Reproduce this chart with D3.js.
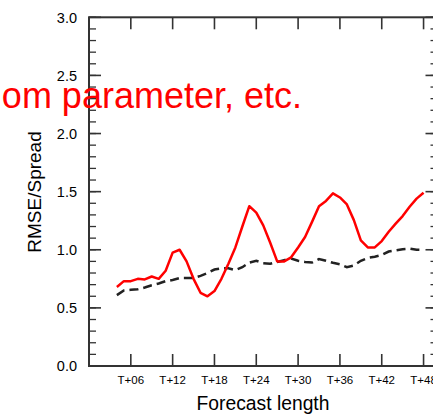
<!DOCTYPE html>
<html><head><meta charset="utf-8">
<script src="https://cdn.jsdelivr.net/npm/d3@7"></script>
<style>body{margin:0;background:#fff}svg{display:block}</style>
</head><body>
<script>
const hours = d3.range(4, 49);
const rmseSpread = [0.68,0.73,0.73,0.75,0.745,0.77,0.75,0.82,0.975,1.0,0.90,0.75,0.63,0.60,0.645,0.75,0.88,1.02,1.20,1.375,1.32,1.21,1.06,0.90,0.90,0.935,1.02,1.11,1.24,1.375,1.42,1.485,1.45,1.39,1.255,1.08,1.02,1.02,1.075,1.155,1.225,1.29,1.37,1.44,1.49];
const reference = [0.61,0.65,0.655,0.66,0.675,0.695,0.71,0.73,0.74,0.757,0.757,0.757,0.775,0.80,0.83,0.84,0.84,0.825,0.85,0.89,0.905,0.885,0.88,0.895,0.91,0.925,0.905,0.895,0.89,0.92,0.905,0.888,0.875,0.85,0.865,0.905,0.93,0.94,0.955,0.985,0.995,1.005,1.01,1.0,1.0];
const xTicks = [6,12,18,24,30,36,42,48];
const xTickLabels = ["T+06","T+12","T+18","T+24","T+30","T+36","T+42","T+48"];
const yTicks = [0.0,0.5,1.0,1.5,2.0,2.5,3.0];

const W = 433, H = 414;
const svg = d3.select("body").append("svg").attr("width", W).attr("height", H);
const x = d3.scaleLinear().domain([0, 50]).range([89, 437.5]);
const y = d3.scaleLinear().domain([0, 3]).range([366, 17.3]);
const font = "'Liberation Sans', Arial, Helvetica, sans-serif";
const axisColor = "#333";

// minor y ticks
const minor = d3.range(0, 31).map(d => d / 10);
const g = svg.append("g");
g.selectAll(".minl").data(minor).join("line")
  .attr("x1", x(0)).attr("x2", x(0) + 7).attr("y1", d => y(d)).attr("y2", d => y(d))
  .attr("stroke", axisColor).attr("stroke-width", 1.3);
g.selectAll(".minr").data(minor).join("line")
  .attr("x1", x(50)).attr("x2", x(50) - 7).attr("y1", d => y(d)).attr("y2", d => y(d))
  .attr("stroke", axisColor).attr("stroke-width", 1.3);
// major y ticks
g.selectAll(".majl").data(yTicks).join("line")
  .attr("x1", x(0)).attr("x2", x(0) + 12).attr("y1", d => y(d)).attr("y2", d => y(d))
  .attr("stroke", axisColor).attr("stroke-width", 1.6);
g.selectAll(".majr").data(yTicks).join("line")
  .attr("x1", x(50)).attr("x2", x(50) - 12).attr("y1", d => y(d)).attr("y2", d => y(d))
  .attr("stroke", axisColor).attr("stroke-width", 1.6);
// x ticks bottom & top
g.selectAll(".xb").data(xTicks).join("line")
  .attr("x1", d => x(d)).attr("x2", d => x(d)).attr("y1", y(0)).attr("y2", y(0) - 12)
  .attr("stroke", axisColor).attr("stroke-width", 1.6);
g.selectAll(".xt").data(xTicks).join("line")
  .attr("x1", d => x(d)).attr("x2", d => x(d)).attr("y1", y(3)).attr("y2", y(3) + 12)
  .attr("stroke", axisColor).attr("stroke-width", 1.6);
// frame
svg.append("rect").attr("x", x(0)).attr("y", y(3)).attr("width", x(50) - x(0)).attr("height", y(0) - y(3))
  .attr("fill", "none").attr("stroke", axisColor).attr("stroke-width", 2);

// tick labels
svg.selectAll(".yl").data(yTicks).join("text")
  .attr("x", 77).attr("y", d => y(d)).attr("dy", "0.36em").attr("text-anchor", "end")
  .attr("font-family", font).attr("font-size", 14.5).attr("fill", "#000")
  .text(d => d.toFixed(1));
svg.selectAll(".xl").data(xTicks).join("text")
  .attr("x", d => x(d)).attr("y", 384).attr("text-anchor", "middle")
  .attr("font-family", font).attr("font-size", 11.5).attr("fill", "#000")
  .text((d, i) => xTickLabels[i]);

// axis titles
svg.append("text").attr("x", 263).attr("y", 410).attr("text-anchor", "middle")
  .attr("font-family", font).attr("font-size", 19.3).attr("fill", "#000").text("Forecast length");
svg.append("text").attr("transform", "translate(41,192) rotate(-90)").attr("text-anchor", "middle")
  .attr("font-family", font).attr("font-size", 19).attr("fill", "#000").text("RMSE/Spread");

// lines
const line = d3.line().x((d, i) => x(hours[i])).y(d => y(d));
svg.append("path").datum(reference).attr("d", line).attr("fill", "none")
  .attr("stroke", "#222").attr("stroke-width", 2.5).attr("stroke-dasharray", "9,5");
svg.append("path").datum(rmseSpread).attr("d", line).attr("fill", "none")
  .attr("stroke", "#f00").attr("stroke-width", 2.5).attr("stroke-linejoin", "round");

// overlay annotation
svg.append("text").attr("x", 302).attr("y", 108.3).attr("text-anchor", "end")
  .attr("font-family", font).attr("font-size", 36).attr("fill", "#f00").text("om parameter, etc.");
</script>
</body></html>
